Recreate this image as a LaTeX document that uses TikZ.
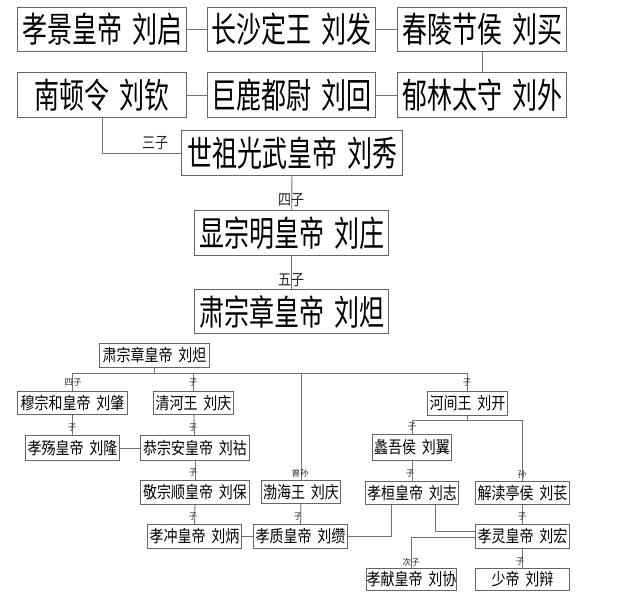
\documentclass[tikz,border=0pt]{standalone}
\usepackage{fontspec}
\usepackage{graphicx}
\newfontfamily\cjk{Noto Sans CJK SC}
\tikzset{
  bigbox/.style={draw=black!60, line width=1.2pt, fill=white, inner sep=0pt, anchor=north west,
    font=\cjk\fontsize{25}{25}\selectfont, text=black},
  smallbox/.style={draw=black!60, line width=1pt, fill=white, inner sep=0pt, anchor=north west,
    font=\cjk\fontsize{14}{14}\selectfont, text=black},
  conn/.style={draw=black!55, line width=0.9pt},
  biglab/.style={font=\cjk\fontsize{13}{13}\selectfont, text=black!85, inner sep=0pt},
  lab/.style={font=\cjk\fontsize{8.5}{8.5}\selectfont, text=black!85, inner sep=0pt},
}
\newcommand\bt[1]{\scalebox{1}[1.4]{#1}}
\newcommand\st[1]{\scalebox{1}[1.2]{#1}}
\begin{document}
\begin{tikzpicture}[x=1pt,y=-1pt]
\useasboundingbox[fill=white] (0,0) rectangle (640,599);
% top rows
\node[bigbox, minimum width=169pt, minimum height=44pt] (A1) at (17,7) {\bt{孝景皇帝\hspace{0.4em}刘启}};
\node[bigbox, minimum width=168pt, minimum height=44pt] (A2) at (207,7) {\bt{长沙定王\hspace{0.4em}刘发}};
\node[bigbox, minimum width=169pt, minimum height=44pt] (A3) at (397,7) {\bt{春陵节侯\hspace{0.4em}刘买}};
\node[bigbox, minimum width=169pt, minimum height=45pt] (B1) at (17,72) {\bt{南顿令\hspace{0.4em}刘钦}};
\node[bigbox, minimum width=168pt, minimum height=45pt] (B2) at (207,72) {\bt{巨鹿都尉\hspace{0.4em}刘回}};
\node[bigbox, minimum width=169pt, minimum height=45pt] (B3) at (397,72) {\bt{郁林太守\hspace{0.4em}刘外}};
\node[bigbox, minimum width=221pt, minimum height=45pt] (C) at (181,130) {\bt{世祖光武皇帝\hspace{0.4em}刘秀}};
\node[bigbox, minimum width=194pt, minimum height=45pt] (D) at (194,210) {\bt{显宗明皇帝\hspace{0.4em}刘庄}};
\node[bigbox, minimum width=194pt, minimum height=44pt] (E) at (194,289) {\bt{肃宗章皇帝\hspace{0.4em}刘炟}};
\draw[conn] (A1) -- (A2);
\draw[conn] (A2) -- (A3);
\draw[conn] (A3) -- (B3);
\draw[conn] (B3) -- (B2);
\draw[conn] (B2) -- (B1);
\draw[conn] (B1.south) |- (C.west);
\draw[conn] (C) -- (D);
\draw[conn] (D) -- (E);
\node[biglab] (l3) at (155,143) {\st{三子}};
\node[biglab] (l4) at (291,200) {\st{四子}};
\node[biglab] (l5) at (291,280) {\st{五子}};
% lower tree
\node[smallbox, minimum width=110pt, minimum height=24pt] (S) at (99,343) {\st{肃宗章皇帝\hspace{0.4em}刘炟}};
\node[smallbox, minimum width=110pt, minimum height=23pt] (M1) at (17,391) {\st{穆宗和皇帝\hspace{0.4em}刘肇}};
\node[smallbox, minimum width=80pt, minimum height=23pt] (Q) at (153,391) {\st{清河王\hspace{0.4em}刘庆}};
\node[smallbox, minimum width=80pt, minimum height=24pt] (H) at (427,391) {\st{河间王\hspace{0.4em}刘开}};
\node[smallbox, minimum width=94pt, minimum height=25pt] (L2) at (25,435) {\st{孝殇皇帝\hspace{0.4em}刘隆}};
\node[smallbox, minimum width=109pt, minimum height=25pt] (G) at (140,435) {\st{恭宗安皇帝\hspace{0.4em}刘祜}};
\node[smallbox, minimum width=79pt, minimum height=26pt] (Li) at (372,434) {\st{蠡吾侯\hspace{0.4em}刘翼}};
\node[smallbox, minimum width=109pt, minimum height=24pt] (Sh) at (140,480) {\st{敬宗顺皇帝\hspace{0.4em}刘保}};
\node[smallbox, minimum width=79pt, minimum height=23pt] (Bh) at (261,480) {\st{渤海王\hspace{0.4em}刘庆}};
\node[smallbox, minimum width=93pt, minimum height=23pt] (Hu) at (365,481) {\st{孝桓皇帝\hspace{0.4em}刘志}};
\node[smallbox, minimum width=94pt, minimum height=23pt] (Jd) at (475,481) {\st{解渎亭侯\hspace{0.4em}刘苌}};
\node[smallbox, minimum width=94pt, minimum height=24pt] (Ch) at (147,524) {\st{孝冲皇帝\hspace{0.4em}刘炳}};
\node[smallbox, minimum width=94pt, minimum height=24pt] (Zh) at (253,524) {\st{孝质皇帝\hspace{0.4em}刘缵}};
\node[smallbox, minimum width=94pt, minimum height=24pt] (Lg) at (475,524) {\st{孝灵皇帝\hspace{0.4em}刘宏}};
\node[smallbox, minimum width=90pt, minimum height=22pt] (Xi) at (366,568) {\st{孝献皇帝\hspace{0.4em}刘协}};
\node[smallbox, minimum width=94pt, minimum height=22pt] (Bi) at (475,568) {\st{少帝\hspace{0.4em}刘辩}};
\coordinate (bar) at (0,373);
\coordinate (hbar) at (0,420);
\draw[conn] (M1.north) |- (H.north |- bar) -- (H.north);
\draw[conn] (S.south) -- (S.south |- bar);
\draw[conn] (Q.north) -- (Q.north |- bar);
\draw[conn] (Bh.north) -- (Bh.north |- bar);
\draw[conn] (M1) -- (L2);
\draw[conn] (Q) -- (G);
\draw[conn] (L2) -- (G);
\draw[conn] (G) -- (Sh);
\draw[conn] (Sh) -- (Ch);
\draw[conn] (Bh) -- (Zh);
\draw[conn] (Ch) -- (Zh);
\draw[conn] (H.south) -- (H.south |- hbar);
\draw[conn] (Li.north) |- (Jd.north |- hbar) -- (Jd.north);
\draw[conn] (Li.south) -- (Li.south |- Hu.north);
\draw[conn] (Jd) -- (Lg);
\draw[conn] (Zh.east) -| ([xshift=26pt]Hu.south west);
\draw[conn] ([xshift=70pt]Hu.south west) |- ([yshift=5pt]Lg.west);
\draw[conn] ([yshift=-1pt]Lg.west) -| (Xi.north);
\draw[conn] (Lg) -- (Bi);
% labels
\node[lab] (k1) at (73,383) {四子};
\node[lab] (k2) at (193,383) {子};
\node[lab] (k3) at (467,383) {子};
\node[lab] (k4) at (72,428) {子};
\node[lab] (k5) at (193,428) {子};
\node[lab] (k6) at (412,427) {子};
\node[lab] (k7) at (193,473) {子};
\node[lab] (k8) at (300,473) {曾孙};
\node[lab] (k9) at (410,474) {子};
\node[lab] (k10) at (522,474) {孙};
\node[lab] (k11) at (193,517) {子};
\node[lab] (k12) at (298,517) {子};
\node[lab] (k13) at (522,517) {子};
\node[lab] (k14) at (411,562) {次子};
\node[lab] (k15) at (520,562) {子};
\end{tikzpicture}
\end{document}
